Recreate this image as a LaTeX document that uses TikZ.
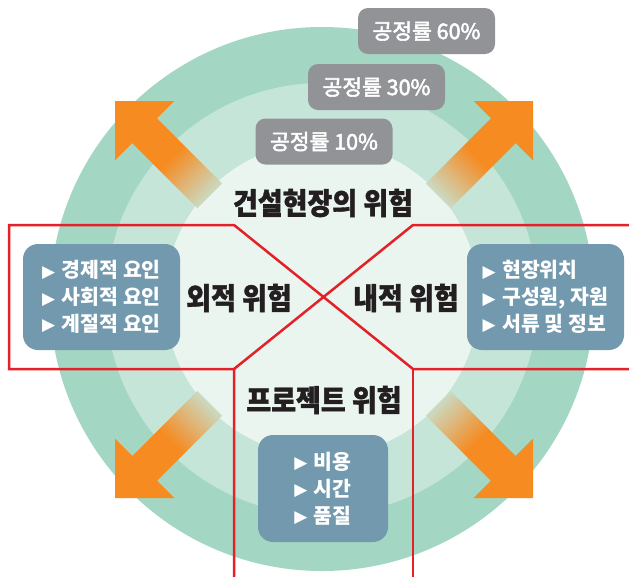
\documentclass[tikz,border=0pt]{standalone}
\usepackage{fontspec}
\newfontfamily\kr{Noto Sans CJK KR}
\newfontfamily\krmed[FakeBold=2.5]{Noto Sans CJK KR}
\newfontfamily\krtitle[FakeStretch=0.9, FakeBold=1.2]{Noto Sans CJK KR}
\newfontfamily\dejavu{DejaVu Sans}
\definecolor{ringA}{HTML}{A4D7C3}
\definecolor{ringB}{HTML}{C5E5D9}
\definecolor{ringC}{HTML}{EAF5EF}
\definecolor{boxblue}{HTML}{7399AE}
\definecolor{boxgray}{HTML}{929397}
\definecolor{arrorange}{HTML}{F58B21}
\definecolor{linered}{HTML}{E42129}
\definecolor{titleblack}{HTML}{231F20}
\colorlet{arrfade}{arrorange!12!ringB}
\newcommand\bultri{\raisebox{0.5pt}{\dejavu\fontsize{17}{17}\selectfont ▶}\hspace{6.5pt}}
\begin{document}
\begin{tikzpicture}[x=1pt,y=-1pt,
  graybox/.style={fill=boxgray, rounded corners=10pt, minimum width=137pt, minimum height=46pt,
    text=white, font=\krmed\fontsize{21.5}{21.5}\selectfont, inner sep=0pt},
  bluebox/.style={fill=boxblue, rounded corners=15pt, inner sep=0pt},
  boxtext/.style={text=white, align=left, font=\kr\bfseries\fontsize{20.5}{26.8}\selectfont, inner sep=0pt},
  titletext/.style={text=titleblack, font=\krtitle\bfseries\fontsize{30}{30}\selectfont, inner sep=0pt},
  redline/.style={draw=linered, line width=2.5pt, line join=miter}]
\useasboundingbox (0,0) rectangle (629,576);
\fill[white] (0,0) rectangle (629,576);
\coordinate (c) at (322,299);
\fill[ringA] (c) circle[radius=272pt];
\fill[ringB] (c) circle[radius=216pt];
\fill[ringC] (c) circle[radius=157pt];
% arrows
\foreach \tx/\ty/\ang in {115/101/135, 533/101/45, 115/498/225, 533/498/315}{
  \begin{scope}[transform canvas={shift={(\tx,\ty)}, rotate=\ang}]
    \fill[arrorange] (0,0) -- (-42,42) -- (-42,17.5) -- (-80,17.5) -- (-80,-17.5) -- (-42,-17.5) -- (-42,-42) -- cycle;
    \shade[left color=arrfade, right color=arrorange] (-134,-17.5) rectangle (-79.5,17.5);
  \end{scope}
}
% red lines
\draw[redline] (234,580) -- (234,369) -- (9,369) -- (9,225) -- (234,225) -- (413,369) -- (634,369);
\draw[redline] (234,369) -- (413,225) -- (634,225);
\draw[redline] (413,369) -- (413,580);
% gray boxes
\node[graybox] (g60) at (426.5,31) {공정률 60\%};
\node[graybox] (g30) at (376.5,87) {공정률 30\%};
\node[graybox] (g10) at (324,141.5) {공정률 10\%};
% blue boxes
\node[bluebox, minimum width=157pt, minimum height=106pt] (lbox) at (101.5,297) {};
\node[bluebox, minimum width=157pt, minimum height=106pt] (rbox) at (545.5,297) {};
\node[bluebox, minimum width=130pt, minimum height=107pt] (bbox) at (323,488.5) {};
\node[boxtext] (ltext) at (lbox.center) {\bultri 경제적 요인\\\bultri 사회적 요인\\\bultri 계절적 요인};
\node[boxtext] (rtext) at (rbox.center) {\bultri 현장위치\\\bultri 구성원, 자원\\\bultri 서류 및 정보};
\node[boxtext] (btext) at (bbox.center) {\bultri 비용\\\bultri 시간\\\bultri 품질};
% titles
\node[titletext] (t1) at (323,203) {건설현장의 위험};
\node[titletext] (t2) at (239,298) {외적 위험};
\node[titletext] (t3) at (406,298) {내적 위험};
\node[titletext] (t4) at (324,400) {프로젝트 위험};
\end{tikzpicture}
\end{document}
